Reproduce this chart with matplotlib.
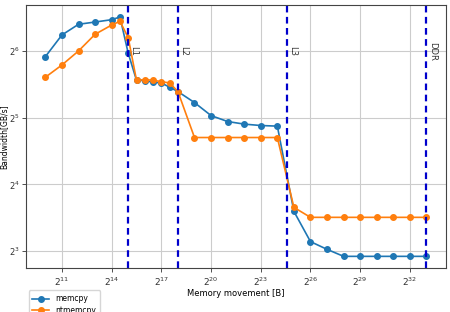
import math

import matplotlib
matplotlib.use("Agg")
import matplotlib.pyplot as plt
from matplotlib.ticker import FixedLocator, FuncFormatter

# Data (exponents of 2)
sizes_exp = [10, 11, 12, 13, 14, 14.5, 15, 15.5, 16, 16.5, 17, 17.5, 18,
             19, 20, 21, 22, 23, 24, 25, 26, 27, 28, 29, 30, 31, 32, 33]
memcpy_exp = [5.915, 6.24, 6.40, 6.434, 6.469, 6.51, 5.966, 5.561, 5.555, 5.531,
              5.52, 5.457, 5.391, 5.226, 5.031, 4.942, 4.903, 4.882, 4.873,
              3.594, 3.141, 3.025, 2.92, 2.92, 2.92, 2.92, 2.92, 2.92]
ntmemcpy_exp = [5.606, 5.79, 6.0, 6.25, 6.389, 6.445, 6.2, 5.561, 5.57, 5.561,
                5.54, 5.52, 5.391, 4.702, 4.702, 4.702, 4.702, 4.702, 4.702,
                3.654, 3.505, 3.505, 3.505, 3.505, 3.505, 3.505, 3.505, 3.505]

cache_names = ["L1", "L2", "L3", "DDR"]
cache_exp = [15, 18, 24.57, 33]

x_tick_exp = [11, 14, 17, 20, 23, 26, 29, 32]
y_tick_exp = [3, 4, 5, 6]

sizes = [2 ** e for e in sizes_exp]
memcpy = [2 ** e for e in memcpy_exp]
ntmemcpy = [2 ** e for e in ntmemcpy_exp]

fig = plt.figure(figsize=(4.5, 3.12), dpi=100)
ax = fig.add_axes([0.0585, 0.14, 0.9315, 0.844])

ax.plot(sizes, memcpy, "-o", color="#1f77b4", lw=1.2, ms=4, label="memcpy")
ax.plot(sizes, ntmemcpy, "-o", color="#ff7f0e", lw=1.2, ms=4, label="ntmemcpy")

ax.set_xscale("log", base=2)
ax.set_yscale("log", base=2)

for name, e in zip(cache_names, cache_exp):
    ax.axvline(2 ** e, color="#0000cc", ls="--", lw=1.6, dashes=(3, 2))
    ax.text(2 ** (e + 0.08), 2 ** 6, name, rotation=270, fontsize=6,
            ha="left", va="center", color="#333333")

ax.xaxis.set_major_locator(FixedLocator([2 ** e for e in x_tick_exp]))
ax.yaxis.set_major_locator(FixedLocator([2 ** e for e in y_tick_exp]))
ax.xaxis.set_minor_locator(FixedLocator([]))
ax.yaxis.set_minor_locator(FixedLocator([]))
fmt = FuncFormatter(lambda v, p: r"$2^{%d}$" % round(math.log2(v)))
ax.xaxis.set_major_formatter(fmt)
ax.yaxis.set_major_formatter(fmt)
ax.tick_params(labelsize=6.5, length=3, width=0.6, pad=2, colors="#333333")
ax.tick_params(axis="y", labelsize=6, pad=1.5)

ax.grid(True, color="#cccccc", lw=0.8)
ax.set_axisbelow(True)
for spine in ax.spines.values():
    spine.set_color("#444444")
    spine.set_linewidth(0.8)

ax.set_xlabel("Memory movement [B]", fontsize=6, labelpad=1)
ax.set_ylabel("Bandwidth[GB/s]", fontsize=5.5, va="center")
ax.yaxis.set_label_coords(-0.053, 0.5)

ax.legend(loc="upper left", bbox_to_anchor=(0.0, -0.075), fontsize=5.5,
          frameon=True, edgecolor="#cccccc", borderpad=0.5, labelspacing=0.35,
          handlelength=2.2, handletextpad=0.8, borderaxespad=0.3)

fig.savefig("out.png", dpi=100)
